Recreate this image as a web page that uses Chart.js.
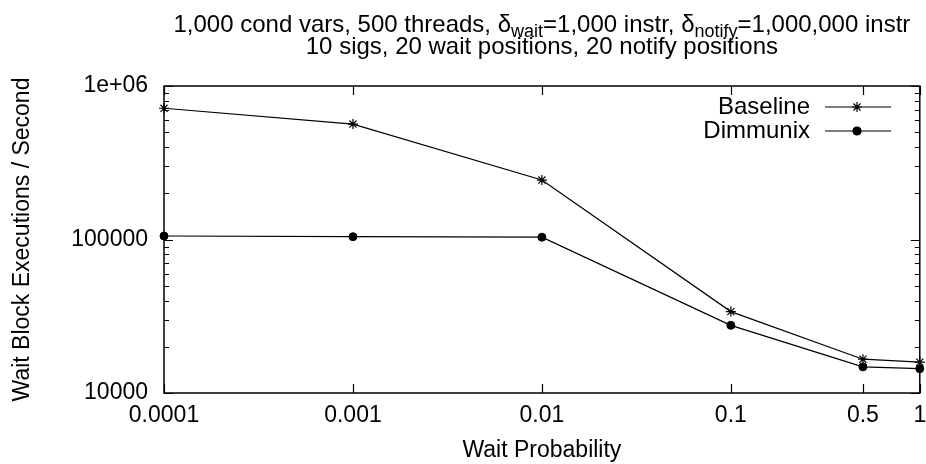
<!DOCTYPE html>
<html><head><meta charset="utf-8">
<script src="https://cdn.jsdelivr.net/npm/chart.js@4"></script>
<style>html,body{margin:0;padding:0;background:#fff}#wrap{width:926px;height:464px}</style>
</head><body><div id="wrap"><canvas id="c" width="926" height="464"></canvas></div>
<script>
const waitProbability = [0.0001, 0.001, 0.01, 0.1, 0.5, 1];
const baselineValues = [716000, 565000, 244000, 33900, 16600, 15900];
const dimmunixValues = [105400, 104300, 103500, 27600, 14800, 14400];
const seriesNames = ['Baseline', 'Dimmunix'];
const xTickValues = [0.0001, 0.001, 0.01, 0.1, 0.5, 1];
const xTickLabels = ['0.0001', '0.001', '0.01', '0.1', '0.5', '1'];
const yTickValues = [10000, 100000, 1000000];
const yTickLabels = ['10000', '100000', '1e+06'];
const yDecades = [10000, 100000];
const titleLine1 = [
  ['1,000 cond vars, 500 threads, δ', false], ['wait', true], ['=1,000 instr, δ', false],
  ['notify', true], ['=1,000,000 instr', false]
];
const titleLine2 = '10 sigs, 20 wait positions, 20 notify positions';
const xAxisTitle = 'Wait Probability';
const yAxisTitle = 'Wait Block Executions / Second';

const FONT = "'Liberation Sans', Arial, sans-serif";
const FS = 23;
const TFS = 24;

const toPts = (xs, ys) => xs.map((x, i) => ({ x, y: ys[i] }));

const gnuplotPlugin = {
  id: 'gnuplotFrame',
  afterDraw(chart) {
    const ctx = chart.ctx;
    const a = chart.chartArea;
    const xs = chart.scales.x, ys = chart.scales.y;
    ctx.save();
    ctx.strokeStyle = '#000';
    ctx.lineWidth = 1.5;
    ctx.strokeRect(a.left, a.top, a.right - a.left, a.bottom - a.top);
    ctx.lineWidth = 1.2;
    ctx.beginPath();
    xTickValues.forEach(v => {
      const px = Math.round(xs.getPixelForValue(v)) + 0.5;
      ctx.moveTo(px, a.bottom); ctx.lineTo(px, a.bottom - 9);
      ctx.moveTo(px, a.top); ctx.lineTo(px, a.top + 9);
    });
    yTickValues.forEach(v => {
      const py = Math.round(ys.getPixelForValue(v)) + 0.5;
      ctx.moveTo(a.left, py); ctx.lineTo(a.left + 9, py);
      ctx.moveTo(a.right, py); ctx.lineTo(a.right - 9, py);
    });
    yDecades.forEach(d => {
      for (let m = 2; m <= 9; m++) {
        const py = Math.round(ys.getPixelForValue(d * m)) + 0.5;
        ctx.moveTo(a.left, py); ctx.lineTo(a.left + 5, py);
        ctx.moveTo(a.right, py); ctx.lineTo(a.right - 5, py);
      }
    });
    ctx.stroke();

    // Title with subscripts
    ctx.fillStyle = '#000';
    ctx.textBaseline = 'alphabetic';
    const cx = (a.left + a.right) / 2;
    const mainFont = TFS + 'px ' + FONT;
    const subFont = 18 + 'px ' + FONT;
    let total = 0;
    titleLine1.forEach(([t, sub]) => { ctx.font = sub ? subFont : mainFont; total += ctx.measureText(t).width; });
    let x = cx - total / 2;
    titleLine1.forEach(([t, sub]) => {
      ctx.font = sub ? subFont : mainFont;
      ctx.textAlign = 'left';
      ctx.fillText(t, x, sub ? 37 : 32);
      x += ctx.measureText(t).width;
    });
    ctx.font = mainFont;
    ctx.textAlign = 'center';
    ctx.fillText(titleLine2, cx, 54);

    // Legend
    const legendY = [107, 131];
    ctx.textAlign = 'right';
    ctx.textBaseline = 'middle';
    ctx.font = TFS + 'px ' + FONT;
    chart.data.datasets.forEach((ds, i) => {
      const y = legendY[i];
      ctx.fillText(ds.label, 810, y);
      ctx.beginPath();
      ctx.lineWidth = ds.borderWidth;
      ctx.moveTo(825, y); ctx.lineTo(891, y);
      ctx.stroke();
      Chart.helpers.drawPoint(ctx, {
        pointStyle: ds.pointStyle, radius: ds.pointRadius, rotation: 0, borderWidth: ds.pointBorderWidth
      }, 857, y);
      if (ds.pointStyle === 'circle') ctx.fill();
    });
    ctx.restore();
  }
};

new Chart(document.getElementById('c'), {
  type: 'line',
  data: {
    datasets: [
      {
        label: seriesNames[0], data: toPts(waitProbability, baselineValues),
        borderColor: '#000', backgroundColor: '#000', borderWidth: 1.2,
        pointStyle: 'star', pointRadius: 5, pointBorderWidth: 1.2, pointHoverRadius: 5,
        tension: 0, clip: false
      },
      {
        label: seriesNames[1], data: toPts(waitProbability, dimmunixValues),
        borderColor: '#000', backgroundColor: '#000', borderWidth: 1.2,
        pointStyle: 'circle', pointRadius: 4, pointBorderWidth: 1, pointHoverRadius: 4,
        tension: 0, clip: false
      }
    ]
  },
  options: {
    responsive: false, animation: false, devicePixelRatio: 1,
    events: [],
    layout: { padding: { top: 86, right: 6, left: 0, bottom: 0 } },
    plugins: { legend: { display: false }, title: { display: false }, tooltip: { enabled: false } },
    scales: {
      x: {
        type: 'logarithmic', min: 0.0001, max: 1,
        grid: { display: false, drawTicks: false }, border: { display: false },
        afterBuildTicks: s => { s.ticks = xTickValues.map(v => ({ value: v })); },
        afterFit: s => { s.height = 71; s.paddingLeft = 0; s.paddingRight = 0; },
        ticks: {
          autoSkip: false, maxRotation: 0, padding: 9, color: '#000',
          font: { family: FONT, size: FS },
          callback: (v) => { const i = xTickValues.indexOf(v); return i >= 0 ? xTickLabels[i] : ''; }
        },
        title: { display: true, text: xAxisTitle, color: '#000', font: { family: FONT, size: FS }, padding: { top: 0, bottom: 0 } }
      },
      y: {
        type: 'logarithmic', min: 10000, max: 1000000,
        grid: { display: false, drawTicks: false }, border: { display: false },
        afterBuildTicks: s => { s.ticks = yTickValues.map(v => ({ value: v })); },
        afterFit: s => { s.width = 164; s.paddingTop = 0; s.paddingBottom = 0; },
        ticks: {
          autoSkip: false, padding: 16, color: '#000',
          font: { family: FONT, size: FS },
          callback: (v) => { const i = yTickValues.indexOf(v); return i >= 0 ? yTickLabels[i] : ''; }
        },
        title: { display: true, text: yAxisTitle, color: '#000', font: { family: FONT, size: FS }, padding: { top: 9, bottom: 0 } }
      }
    }
  },
  plugins: [gnuplotPlugin]
});
</script>
</body></html>
